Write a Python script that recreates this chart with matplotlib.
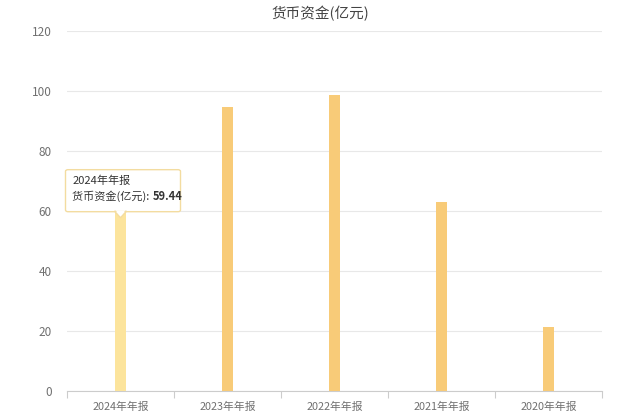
import numpy as np
import matplotlib
matplotlib.use("Agg")
import matplotlib.pyplot as plt
from matplotlib.patches import FancyBboxPatch, Polygon

plt.rcParams["font.family"] = ["Noto Sans CJK SC", "DejaVu Sans"]

# data
years = ["2024年年报", "2023年年报", "2022年年报", "2021年年报", "2020年年报"]
cash = [59.44, 94.8, 98.8, 62.9, 21.5]
yticks = [0, 20, 40, 60, 80, 100, 120]
title = "货币资金(亿元)"
series_name = "货币资金(亿元)"
hover_idx = 0

bar_color = "#F8CB78"
hover_color = "#FCE49C"

fig = plt.figure(figsize=(6.4, 4.2), dpi=100)
ax = fig.add_axes([67/640, 29/420, 535/640, 360/420])

x = np.arange(len(years))
colors = [hover_color if i == hover_idx else bar_color for i in range(len(years))]
ax.bar(x, cash, width=0.11, color=colors, zorder=3)

ax.set_xlim(-0.5, len(years) - 0.5)
ax.set_ylim(0, 120)
ax.set_yticks(yticks)
ax.set_yticklabels([str(v) for v in yticks])
ax.set_xticks(x)
ax.set_xticklabels(years)
ax.set_xticks(np.arange(-0.5, len(years)), minor=True)

for s in ["top", "right", "left"]:
    ax.spines[s].set_visible(False)
ax.spines["bottom"].set_color("#cccccc")
ax.spines["bottom"].set_linewidth(0.8)

ax.tick_params(axis="x", which="major", length=0, pad=8, labelsize=7.8, labelcolor="#707070")
ax.tick_params(axis="x", which="minor", length=5, color="#cccccc", width=0.8)
ax.tick_params(axis="y", length=0, pad=11, labelsize=8.5, labelcolor="#707070")
ax.grid(axis="y", color="#e8e8e8", linewidth=0.8, zorder=0)

fig.text(0.5, 1 - 14/420, title, ha="center", va="center", fontsize=10.5, color="#444444")

# tooltip for the hovered bar
bx, by = ax.transData.transform((x[hover_idx], cash[hover_idx]))
inv = fig.transFigure.inverted()

def fpt(px, py):
    return inv.transform((px, py))

left, bottom = bx - 55, by + 1
w, h = 115, 42
p0 = fpt(left, bottom)
p1 = fpt(left + w, bottom + h)
box = FancyBboxPatch(p0, p1[0] - p0[0], p1[1] - p0[1],
                     boxstyle="round,pad=0,rounding_size=0.004",
                     transform=fig.transFigure, facecolor="white",
                     edgecolor="#f3dca0", linewidth=1.0, zorder=10)
fig.add_artist(box)
tri = Polygon([fpt(bx - 6, bottom + 0.5), fpt(bx + 6, bottom + 0.5), fpt(bx, bottom - 6)],
              closed=True, transform=fig.transFigure, facecolor="white",
              edgecolor="#f3dca0", linewidth=1.0, zorder=10)
fig.add_artist(tri)
cover = Polygon([fpt(bx - 5, bottom + 1.5), fpt(bx + 5, bottom + 1.5), fpt(bx, bottom - 4.5)],
                closed=True, transform=fig.transFigure, facecolor="white",
                edgecolor="none", zorder=11)
fig.add_artist(cover)

t1 = fpt(left + 7, bottom + h - 11)
fig.text(t1[0], t1[1], years[hover_idx], fontsize=8, color="#333333",
         ha="left", va="center", zorder=12)
t2 = fpt(left + 7, bottom + h - 27)
lab = fig.text(t2[0], t2[1], series_name + ": ", fontsize=8, color="#333333",
               ha="left", va="center", zorder=12)
fig.canvas.draw()
ext = lab.get_window_extent()
t3 = fpt(ext.x1, bottom + h - 27)
fig.text(t3[0], t3[1], f"{cash[hover_idx]:.2f}", fontsize=8, color="#333333",
         fontweight="bold", ha="left", va="center", zorder=12)

fig.savefig("out.png", dpi=100)
